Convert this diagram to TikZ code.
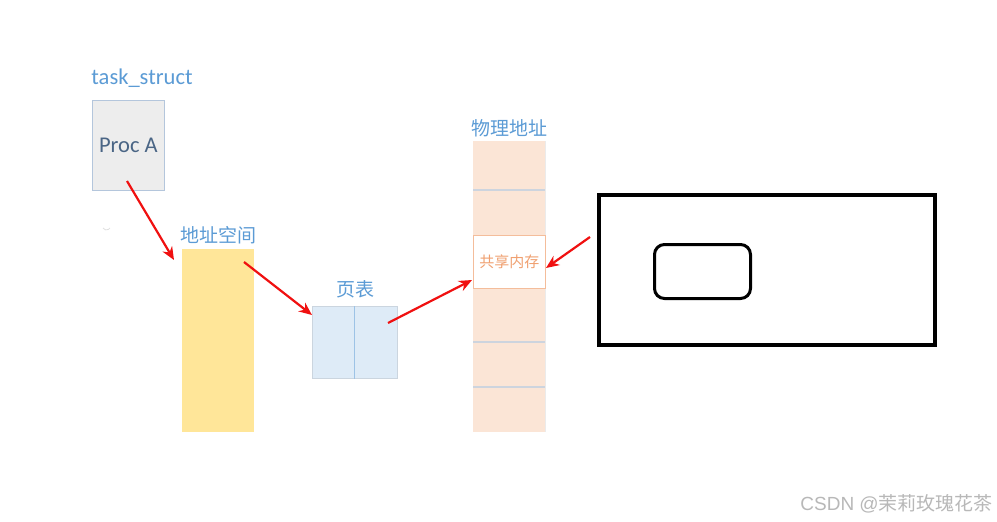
\documentclass[tikz,border=0pt]{standalone}
\usepackage{fontspec}
\setmainfont{Carlito}
\newfontfamily\cjk{Noto Sans CJK SC}
\newfontfamily\wmfont{Liberation Sans}
\usetikzlibrary{arrows.meta}
\definecolor{lblue}{HTML}{5B9BD5}
\definecolor{procfill}{HTML}{EDEDED}
\definecolor{procborder}{HTML}{B4C6DC}
\definecolor{proctext}{HTML}{4A6585}
\definecolor{yel}{HTML}{FFE699}
\definecolor{ptfill}{HTML}{DEEBF7}
\definecolor{ptline}{HTML}{9DC3E6}
\definecolor{phfill}{HTML}{FBE5D6}
\definecolor{phline}{HTML}{CDD4DE}
\definecolor{shorange}{HTML}{F0A070}
\definecolor{arrowred}{HTML}{F01010}
\tikzset{
  lbl/.style={text=lblue, inner sep=0pt},
  redarrow/.style={draw=arrowred, line width=2.2pt, -{Stealth[length=13pt,width=11pt]}},
}
\begin{document}
\begin{tikzpicture}[x=1pt,y=-1pt]
\useasboundingbox[fill=white] (0,0) rectangle (997,522);
% labels
\node[lbl, font=\fontsize{22.5}{22.5}\selectfont] (tslbl) at (142,78) {task\_struct};
\node[lbl, font=\cjk\fontsize{19}{19}\selectfont] (aslbl) at (218,235) {地址空间};
\node[lbl, font=\cjk\fontsize{19}{19}\selectfont] (ptlbl) at (355,289) {页表};
\node[lbl, font=\cjk\fontsize{19}{19}\selectfont] (phlbl) at (509,128) {物理地址};
% Proc A
\node[draw=procborder, fill=procfill, line width=0.8pt, minimum width=72pt, minimum height=90pt, anchor=north west, inner sep=0pt,
      text=proctext, font=\fontsize{22.5}{22.5}\selectfont] (proc) at (92,100) {Proc A};
% faint arc
\draw[gray!25, line width=0.8pt] (103,228) arc (150:30:4);
% address space
\fill[yel] (182,249) rectangle (254,432);
\node[inner sep=0pt, minimum width=72pt, minimum height=183pt, anchor=north west] (as) at (182,249) {};
% page table
\node[draw=ptfill!80!gray, fill=ptfill, line width=0.6pt, minimum width=85pt, minimum height=72pt, anchor=north west, inner sep=0pt] (pt) at (312,306) {};
\draw[ptline, line width=0.8pt] (pt.north) -- (pt.south);
% physical memory
\fill[phfill] (473,141) rectangle (545,432);
\node[inner sep=0pt, minimum width=72pt, minimum height=291pt, anchor=north west] (ph) at (473,141) {};
\foreach \yy in {190,342,387} \draw[phline, line width=1.2pt] (473,\yy) -- (545,\yy);
\draw[black!8, line width=0.5pt] (545,141) -- (545,432);
\node[draw=shorange!70, fill=white, line width=0.8pt, minimum width=72pt, minimum height=53pt, anchor=north west, inner sep=0pt,
      text=shorange, font=\cjk\fontsize{15}{15}\selectfont] (sh) at (473,235) {共享内存};
% black boxes
\node[draw=black, line width=3.5pt, minimum width=336pt, minimum height=150pt, anchor=north west, inner sep=0pt] (big) at (597,193) {};
\node[draw=black, line width=3pt, rounded corners=10pt, minimum width=96pt, minimum height=54pt, anchor=north west, inner sep=0pt] (small) at (653,243) {};
% arrow coordinates
\coordinate (a1s) at (127,181);
\coordinate (a1e) at (174,260);
\coordinate (a2s) at (244,262);
\coordinate (a2e) at (312,315);
\coordinate (a3s) at (388,323);
\coordinate (a3e) at (472,280);
\coordinate (a4s) at (590,237);
\coordinate (a4e) at (546,268);
\draw[redarrow] (a1s) -- (a1e);
\draw[redarrow] (a2s) -- (a2e);
\draw[redarrow] (a3s) -- (a3e);
\draw[redarrow] (a4s) -- (a4e);
% watermark
\node[text=black!28, font=\fontsize{19}{19}\selectfont, anchor=east, inner sep=0pt] (wm) at (993,504) {\wmfont CSDN @\cjk 茉莉玫瑰花茶};
\end{tikzpicture}
\end{document}
